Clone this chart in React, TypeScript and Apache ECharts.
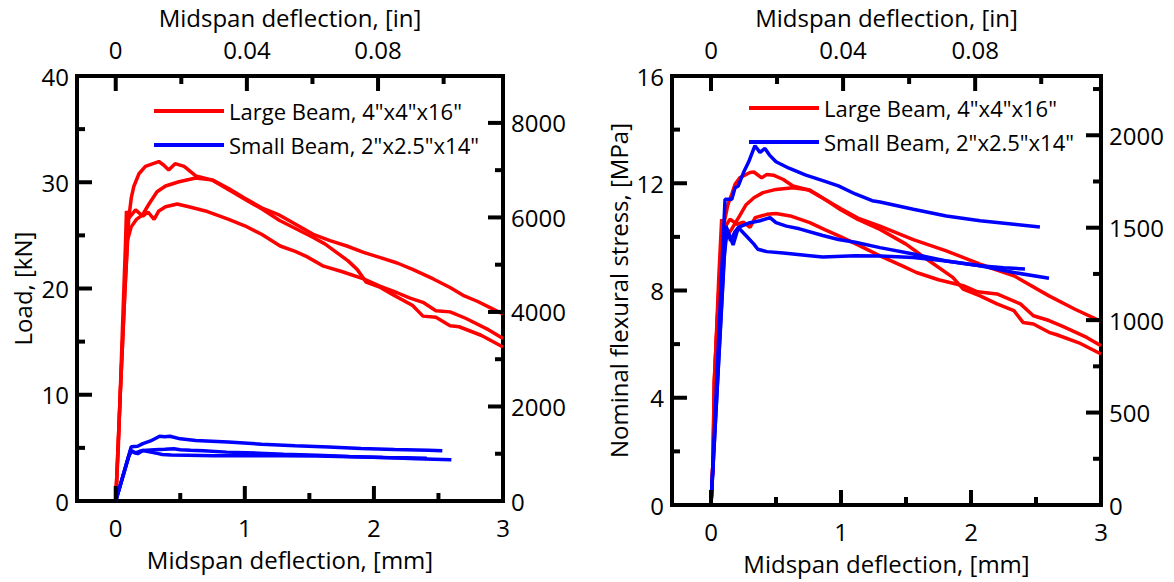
import React, { useEffect, useRef } from 'react';
import * as echarts from 'echarts';

const LARGE = 'Large Beam, 4"x4"x16"';
const SMALL = 'Small Beam, 2"x2.5"x14"';

// ---------- axis ranges and tick values ----------
const MM_MIN = -0.3;
const MM_MAX = 3;
const MM_LABELS = [0, 1, 2, 3];
const MM_TICKS = [0, 1, 2];
const MM_MINOR = [0.5, 1.5, 2.5];
const IN_MIN = -0.011811;
const IN_MAX = 0.11811;
const IN_LABELS = [0, 0.04, 0.08];
const IN_MINOR = [0.02, 0.06, 0.1];
const KN_MAX = 40;
const KN_TICKS = [10, 20, 30];
const KN_MINOR = [5, 15, 25, 35];
const MPA_MAX = 16;
const MPA_TICKS = [4, 8, 12];
const MPA_MINOR = [2, 6, 10, 14];
const LBF_MAX = 8992.4;
const LBF_LABELS = [0, 2000, 4000, 6000, 8000];
const LBF_TICKS = [2000, 4000, 6000, 8000];
const LBF_MINOR = [1000, 3000, 5000, 7000];
const PSI_MAX = 2320.6;
const PSI_LABELS = [0, 500, 1000, 1500, 2000];
const PSI_TICKS = [500, 1000, 1500, 2000];
const PSI_MINOR = [250, 750, 1250, 1750, 2250];

// ---------- left panel: load [kN] vs deflection [mm] ----------
const largeLoadA = [[0, 0], [0.035, 10], [0.07, 19.5], [0.09, 24], [0.1, 26.5], [0.12, 28.5], [0.14, 29.6], [0.18, 30.8], [0.23, 31.5], [0.3, 31.8], [0.334, 31.95], [0.373, 31.6], [0.41, 31.15], [0.46, 31.75], [0.53, 31.5], [0.62, 30.6], [0.75, 30.2], [0.875, 29.4], [1.0, 28.5], [1.13, 27.6], [1.27, 26.9], [1.4, 26.0], [1.53, 25.1], [1.66, 24.5], [1.79, 24.0], [1.92, 23.4], [2.05, 22.9], [2.18, 22.4], [2.3, 21.8], [2.46, 20.9], [2.59, 20.1], [2.7, 19.3], [2.8, 18.8], [2.9, 18.2], [3.0, 17.6]];
const largeLoadB = [[0, 0], [0.035, 10], [0.07, 19.5], [0.09, 24.5], [0.12, 25.8], [0.16, 26.5], [0.206, 26.9], [0.26, 28.0], [0.32, 29.1], [0.386, 29.65], [0.49, 30.05], [0.62, 30.4], [0.75, 30.2], [0.875, 29.3], [1.0, 28.4], [1.13, 27.5], [1.27, 26.4], [1.4, 25.6], [1.53, 24.8], [1.62, 24.2], [1.71, 23.4], [1.8, 22.6], [1.87, 21.8], [1.94, 20.6], [2.05, 20.1], [2.15, 19.4], [2.3, 18.4], [2.38, 17.4], [2.48, 17.3], [2.59, 16.5], [2.66, 16.4], [2.83, 15.6], [3.0, 14.5]];
const largeLoadC = [[0, 0], [0.02, 5], [0.04, 12], [0.06, 19], [0.075, 24], [0.083, 27.3], [0.1, 26.6], [0.154, 27.4], [0.21, 26.8], [0.25, 27.2], [0.297, 26.5], [0.334, 27.3], [0.386, 27.7], [0.476, 27.95], [0.566, 27.7], [0.695, 27.3], [0.875, 26.5], [1.0, 25.9], [1.13, 25.1], [1.274, 24.0], [1.39, 23.5], [1.48, 23.0], [1.61, 22.1], [1.75, 21.6], [1.92, 20.9], [2.05, 20.2], [2.18, 19.6], [2.28, 19.1], [2.38, 18.7], [2.48, 17.9], [2.59, 17.8], [2.71, 17.2], [2.89, 16.1], [3.0, 15.3]];
const smallLoadA = [[0, 0], [0.12, 5.1], [0.17, 5.15], [0.21, 5.4], [0.27, 5.65], [0.34, 6.1], [0.38, 6.05], [0.42, 6.1], [0.5, 5.85], [0.62, 5.7], [0.87, 5.55], [1.13, 5.35], [1.39, 5.2], [1.65, 5.08], [1.9, 4.95], [2.16, 4.85], [2.42, 4.78], [2.53, 4.72]];
const smallLoadB = [[0, 0], [0.115, 4.75], [0.17, 4.45], [0.21, 4.75], [0.3, 4.83], [0.38, 4.87], [0.45, 4.92], [0.5, 4.83], [0.58, 4.77], [0.68, 4.72], [0.86, 4.6], [1.11, 4.5], [1.3, 4.4], [1.56, 4.3], [1.81, 4.18], [2.07, 4.09], [2.25, 4.06], [2.41, 4.03]];
const smallLoadC = [[0, 0], [0.1, 4.2], [0.125, 4.72], [0.15, 4.5], [0.185, 4.68], [0.21, 4.75], [0.27, 4.6], [0.33, 4.46], [0.36, 4.38], [0.43, 4.33], [0.556, 4.31], [0.76, 4.27], [1.11, 4.26], [1.3, 4.26], [1.56, 4.23], [1.81, 4.17], [2.07, 4.09], [2.33, 3.98], [2.6, 3.88]];

// ---------- right panel: stress [MPa] vs deflection [mm] ----------
const largeStressA = [[0, 0], [0.015, 1.6], [0.025, 4.6], [0.06, 8], [0.1, 10.5], [0.13, 11.2], [0.16, 11.6], [0.185, 11.96], [0.22, 12.2], [0.3, 12.4], [0.33, 12.42], [0.39, 12.2], [0.43, 12.33], [0.48, 12.3], [0.556, 12.14], [0.63, 11.9], [0.75, 11.75], [0.875, 11.4], [1.0, 11.05], [1.13, 10.7], [1.3, 10.4], [1.556, 9.9], [1.81, 9.48], [2.07, 8.98], [2.33, 8.55], [2.6, 7.8], [2.8, 7.3], [3.0, 6.85]];
const largeStressB = [[0, 0], [0.015, 1.6], [0.025, 4.6], [0.06, 8], [0.09, 9.5], [0.12, 10.0], [0.16, 10.3], [0.22, 10.78], [0.27, 11.2], [0.33, 11.46], [0.4, 11.65], [0.5, 11.77], [0.63, 11.83], [0.76, 11.75], [0.875, 11.4], [1.0, 11.0], [1.13, 10.65], [1.3, 10.28], [1.5, 9.73], [1.68, 9.1], [1.86, 8.49], [1.94, 8.05], [2.07, 7.8], [2.2, 7.5], [2.33, 7.25], [2.4, 6.81], [2.48, 6.75], [2.6, 6.44], [2.66, 6.35], [2.83, 6.05], [3.0, 5.63]];
const largeStressC = [[0, 0], [0.015, 1.6], [0.03, 5], [0.06, 8.5], [0.082, 10.66], [0.1, 10.3], [0.146, 10.66], [0.2, 10.47], [0.25, 10.55], [0.3, 10.35], [0.34, 10.72], [0.43, 10.84], [0.5, 10.87], [0.61, 10.78], [0.76, 10.53], [0.875, 10.27], [1.0, 10.0], [1.13, 9.7], [1.3, 9.29], [1.48, 8.9], [1.58, 8.67], [1.75, 8.4], [1.94, 8.18], [2.05, 7.95], [2.2, 7.87], [2.38, 7.5], [2.48, 7.06], [2.6, 6.88], [2.71, 6.65], [2.89, 6.25], [3.0, 5.94]];
const smallStressA = [[0, 0], [0.108, 11.4], [0.16, 11.4], [0.185, 11.83], [0.21, 11.9], [0.25, 12.4], [0.29, 12.8], [0.338, 13.4], [0.377, 13.15], [0.415, 13.3], [0.45, 13.05], [0.5, 12.8], [0.6, 12.56], [0.73, 12.3], [0.86, 12.1], [0.98, 11.9], [1.11, 11.6], [1.24, 11.35], [1.3, 11.3], [1.556, 11.03], [1.81, 10.78], [2.07, 10.6], [2.33, 10.47], [2.53, 10.37]];
const smallStressB = [[0, 0], [0.115, 10.4], [0.17, 9.7], [0.21, 10.35], [0.3, 10.53], [0.377, 10.6], [0.454, 10.72], [0.5, 10.53], [0.58, 10.4], [0.68, 10.3], [0.86, 10.05], [0.98, 9.9], [1.11, 9.8], [1.3, 9.6], [1.556, 9.36], [1.81, 9.1], [2.07, 8.92], [2.25, 8.85], [2.415, 8.8]];
const smallStressC = [[0, 0], [0.1, 9.2], [0.125, 10.3], [0.15, 9.85], [0.185, 10.2], [0.21, 10.35], [0.27, 10.04], [0.33, 9.73], [0.36, 9.54], [0.43, 9.45], [0.556, 9.4], [0.76, 9.3], [0.86, 9.25], [1.11, 9.3], [1.3, 9.29], [1.556, 9.23], [1.81, 9.1], [2.07, 8.92], [2.33, 8.67], [2.6, 8.46]];

const RED = '#ff0000';
const BLUE = '#0000ff';
const FONT = '"Open Sans", sans-serif';
const FS = 24;
const MAJOR_LEN = 15;
const MINOR_LEN = 8;
const TICK_W = 4;
const AXIS_LINE = { show: true, onZero: false, lineStyle: { color: '#000', width: 4, cap: 'square' } };

const GRIDS = [
  { left: 77, top: 74, width: 426, height: 427 },
  { left: 672, top: 75, width: 429, height: 430 },
];

const plain = (v: number) => String(v);
const nameStyle = { fontSize: FS, color: '#000', fontFamily: FONT };

function axisBase(labels: number[] | null, margin: number) {
  return {
    axisLine: AXIS_LINE,
    axisTick: { show: false },
    axisLabel: labels
      ? { show: true, customValues: labels, fontSize: FS, color: '#000', fontFamily: FONT, formatter: plain, margin }
      : { show: true, fontSize: FS, color: '#000', fontFamily: FONT, formatter: plain, margin },
    splitLine: { show: false },
    minorTick: { show: false },
    minorSplitLine: { show: false },
  };
}

function xAxesFor(grid: number) {
  return [
    { type: 'value', gridIndex: grid, position: 'bottom', min: MM_MIN, max: MM_MAX, ...axisBase(MM_LABELS, 14),
      name: 'Midspan deflection, [mm]', nameLocation: 'middle', nameGap: 46, nameTextStyle: nameStyle },
    { type: 'value', gridIndex: grid, position: 'top', min: IN_MIN, max: IN_MAX, ...axisBase(IN_LABELS, 15),
      name: 'Midspan deflection, [in]', nameLocation: 'middle', nameGap: 47, nameTextStyle: nameStyle },
  ];
}

function line(name: string, color: string, data: number[][], xi: number, yi: number) {
  return {
    type: 'line', name, data, xAxisIndex: xi, yAxisIndex: yi,
    symbol: 'none', showSymbol: false, clip: true,
    lineStyle: { color, width: 3.5 }, itemStyle: { color },
    emphasis: { disabled: true },
  };
}

function legendAt(left: number, top: number) {
  return {
    left, top, orient: 'vertical', icon: 'rect', itemWidth: 70, itemHeight: 4, itemGap: 10,
    selectedMode: false, data: [LARGE, SMALL],
    textStyle: { fontSize: 22, color: '#000', fontFamily: FONT, lineHeight: 24 },
  };
}

const PANELS = [
  { g: 0, xMm: 0, xIn: 1, yL: 0, yR: 1, yMax: KN_MAX, rMax: LBF_MAX, lMaj: KN_TICKS, lMin: KN_MINOR, rMaj: LBF_TICKS, rMin: LBF_MINOR },
  { g: 1, xMm: 2, xIn: 3, yL: 2, yR: 3, yMax: MPA_MAX, rMax: PSI_MAX, lMaj: MPA_TICKS, lMin: MPA_MINOR, rMaj: PSI_TICKS, rMin: PSI_MINOR },
];

const option: any = {
  animation: false,
  textStyle: { fontFamily: FONT, color: '#000' },
  grid: GRIDS,
  legend: [legendAt(149, 94), legendAt(744, 91)],
  xAxis: [...xAxesFor(0), ...xAxesFor(1)],
  yAxis: [
    { type: 'value', gridIndex: 0, position: 'left', min: 0, max: KN_MAX, interval: 10, ...axisBase(null, 8),
      name: 'Load, [kN]', nameLocation: 'middle', nameGap: 43, nameTextStyle: nameStyle },
    { type: 'value', gridIndex: 0, position: 'right', min: 0, max: LBF_MAX, ...axisBase(LBF_LABELS, 8) },
    { type: 'value', gridIndex: 1, position: 'left', min: 0, max: MPA_MAX, interval: 4, ...axisBase(null, 8),
      name: 'Nominal flexural stress, [MPa]', nameLocation: 'middle', nameGap: 42, nameTextStyle: nameStyle },
    { type: 'value', gridIndex: 1, position: 'right', min: 0, max: PSI_MAX, ...axisBase(PSI_LABELS, 8) },
  ],
  series: [
    line(LARGE, RED, largeLoadA, 0, 0),
    line(LARGE, RED, largeLoadB, 0, 0),
    line(LARGE, RED, largeLoadC, 0, 0),
    line(SMALL, BLUE, smallLoadA, 0, 0),
    line(SMALL, BLUE, smallLoadB, 0, 0),
    line(SMALL, BLUE, smallLoadC, 0, 0),
    line(LARGE, RED, largeStressA, 2, 2),
    line(LARGE, RED, largeStressB, 2, 2),
    line(LARGE, RED, largeStressC, 2, 2),
    line(SMALL, BLUE, smallStressA, 2, 2),
    line(SMALL, BLUE, smallStressB, 2, 2),
    line(SMALL, BLUE, smallStressC, 2, 2),
  ],
};

// tick rectangles [x, y, w, h], placed with the chart's own axis conversion
function tickRects(chart: any): number[][] {
  const rects: number[][] = [];
  const conv = (finder: any, v: number, fallback: number) => {
    let r: any;
    try { r = chart.convertToPixel(finder, v); } catch (e) { r = undefined; }
    return typeof r === 'number' && isFinite(r) ? r : fallback;
  };
  PANELS.forEach((p) => {
    const G = GRIDS[p.g];
    const fx = (v: number, lo: number, hi: number) => G.left + ((v - lo) / (hi - lo)) * G.width;
    const fy = (v: number, hi: number) => G.top + G.height - (v / hi) * G.height;
    const xMm = (v: number) => conv({ xAxisIndex: p.xMm }, v, fx(v, MM_MIN, MM_MAX));
    const xIn = (v: number) => conv({ xAxisIndex: p.xIn }, v, fx(v, IN_MIN, IN_MAX));
    const yL = (v: number) => conv({ yAxisIndex: p.yL }, v, fy(v, p.yMax));
    const yR = (v: number) => conv({ yAxisIndex: p.yR }, v, fy(v, p.rMax));
    const bottom = yL(0);
    const top = yL(p.yMax);
    const left = xMm(MM_MIN);
    const right = xMm(MM_MAX);
    const h = TICK_W / 2;
    MM_TICKS.forEach((v) => rects.push([xMm(v) - h, bottom - MAJOR_LEN, TICK_W, MAJOR_LEN]));
    MM_MINOR.forEach((v) => rects.push([xMm(v) - h, bottom - MINOR_LEN, TICK_W, MINOR_LEN]));
    IN_LABELS.forEach((v) => rects.push([xIn(v) - h, top, TICK_W, MAJOR_LEN]));
    IN_MINOR.forEach((v) => rects.push([xIn(v) - h, top, TICK_W, MINOR_LEN]));
    p.lMaj.forEach((v) => rects.push([left, yL(v) - h, MAJOR_LEN, TICK_W]));
    p.lMin.forEach((v) => rects.push([left, yL(v) - h, MINOR_LEN, TICK_W]));
    p.rMaj.forEach((v) => rects.push([right - MAJOR_LEN, yR(v) - h, MAJOR_LEN, TICK_W]));
    p.rMin.forEach((v) => rects.push([right - MINOR_LEN, yR(v) - h, MINOR_LEN, TICK_W]));
  });
  return rects;
}

export default function App() {
  const ref = useRef<HTMLDivElement>(null);
  useEffect(() => {
    const chart = echarts.init(ref.current as HTMLDivElement, null, { renderer: 'svg' });
    chart.setOption(option);
    const zr = chart.getZr();
    const added: any[] = [];
    try {
      tickRects(chart).forEach(([x, y, w, h]) => {
        const r = new (echarts as any).graphic.Rect({
          shape: { x, y, width: w, height: h },
          style: { fill: '#000' },
          z: 100,
          silent: true,
        });
        zr.add(r);
        added.push(r);
      });
    } catch (e) {
      // keep chart if tick drawing fails
    }
    return () => {
      added.forEach((r) => zr.remove(r));
      chart.dispose();
    };
  }, []);
  return <div ref={ref} style={{ position: 'absolute', left: 0, top: 0, width: 1174, height: 582 }} />;
}
